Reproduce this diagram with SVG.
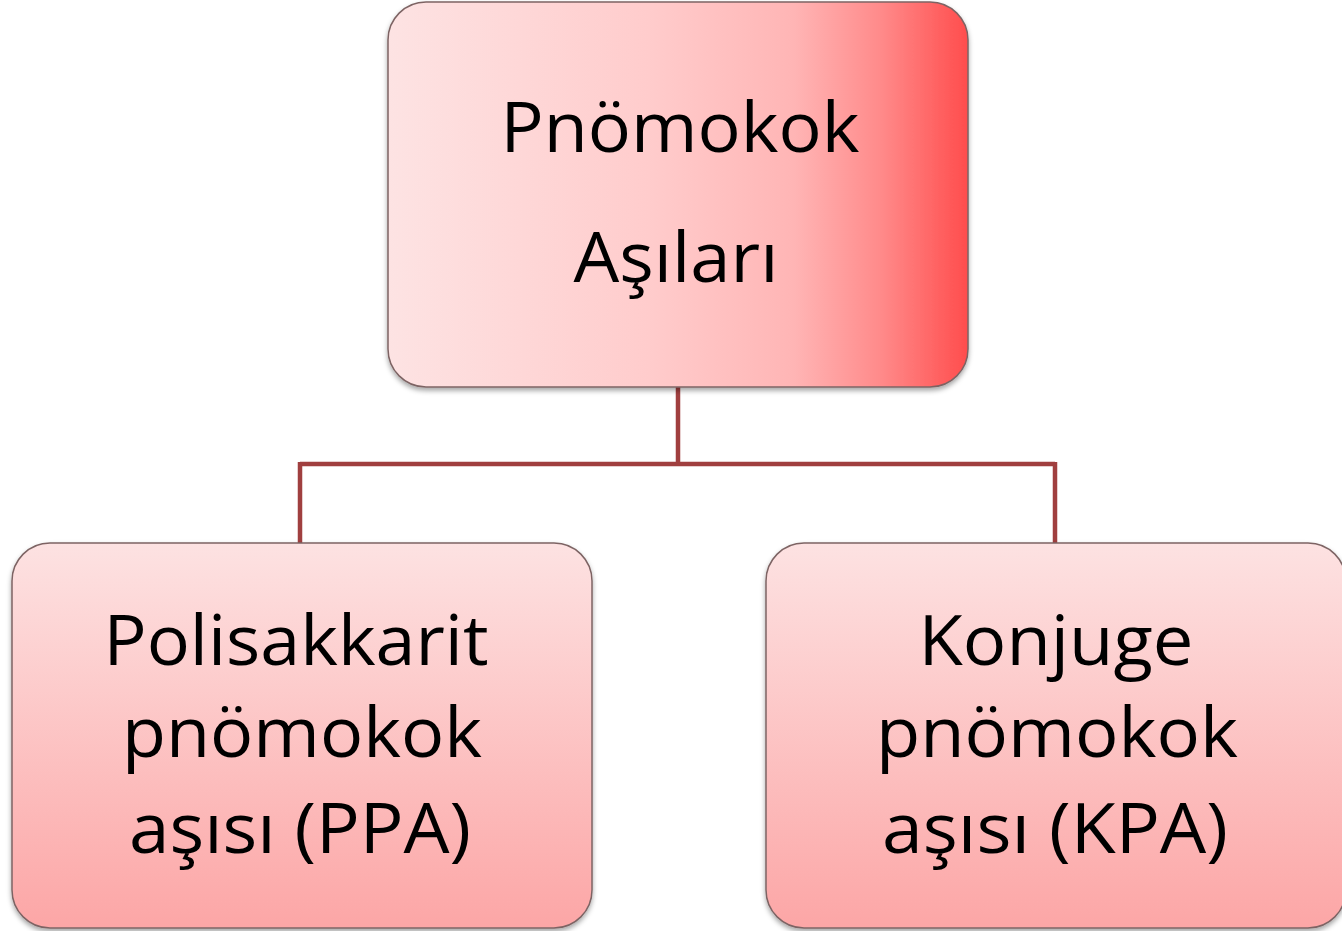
<svg xmlns="http://www.w3.org/2000/svg" width="1342" height="931" viewBox="0 0 1342 931">
<defs>
<linearGradient id="gTop" x1="0" y1="0" x2="1" y2="0">
<stop offset="0" stop-color="#fde3e3"/>
<stop offset="0.45" stop-color="#ffcccc"/>
<stop offset="0.7" stop-color="#ffb5b5"/>
<stop offset="0.85" stop-color="#ff8a8a"/>
<stop offset="1" stop-color="#ff4d4d"/>
</linearGradient>
<linearGradient id="gBot" x1="0" y1="0" x2="0" y2="1">
<stop offset="0" stop-color="#fde2e2"/>
<stop offset="1" stop-color="#fca6a6"/>
</linearGradient>
<filter id="sh" x="-5%" y="-5%" width="110%" height="115%">
<feDropShadow dx="0" dy="3" stdDeviation="2.5" flood-color="#000" flood-opacity="0.35"/>
</filter>
</defs>
<style>
.box{stroke:#7d6464;stroke-width:1.5;filter:url(#sh)}
.t{font-family:"Open Sans","Noto Sans","Liberation Sans",sans-serif;font-size:70px;fill:#000;text-anchor:middle}
.c{fill:none;stroke:#a03f3f;stroke-width:4.5}
</style>
<g id="connectors">
<path class="c" d="M678 387 V464 M300 464 H1055 M300 462 V543 M1055 462 V543"/>
</g>
<g id="node-top">
<rect class="box" x="388" y="2" width="580" height="385" rx="38" fill="url(#gTop)"/>
<text class="t" x="680" y="152" textLength="359" lengthAdjust="spacingAndGlyphs">Pnömokok</text>
<text class="t" x="676" y="282" textLength="205" lengthAdjust="spacingAndGlyphs">Aşıları</text>
</g>
<g id="node-ppa">
<rect class="box" x="12" y="543" width="580" height="385" rx="38" fill="url(#gBot)"/>
<text class="t" x="296" y="665" textLength="385" lengthAdjust="spacingAndGlyphs">Polisakkarit</text>
<text class="t" x="302" y="757" textLength="360" lengthAdjust="spacingAndGlyphs">pnömokok</text>
<text class="t" x="300" y="853" textLength="342" lengthAdjust="spacingAndGlyphs">aşısı (PPA)</text>
</g>
<g id="node-kpa">
<rect class="box" x="766" y="543" width="580" height="385" rx="38" fill="url(#gBot)"/>
<text class="t" x="1056" y="665" textLength="275" lengthAdjust="spacingAndGlyphs">Konjuge</text>
<text class="t" x="1057" y="757" textLength="362" lengthAdjust="spacingAndGlyphs">pnömokok</text>
<text class="t" x="1055" y="853" textLength="346" lengthAdjust="spacingAndGlyphs">aşısı (KPA)</text>
</g>
</svg>
